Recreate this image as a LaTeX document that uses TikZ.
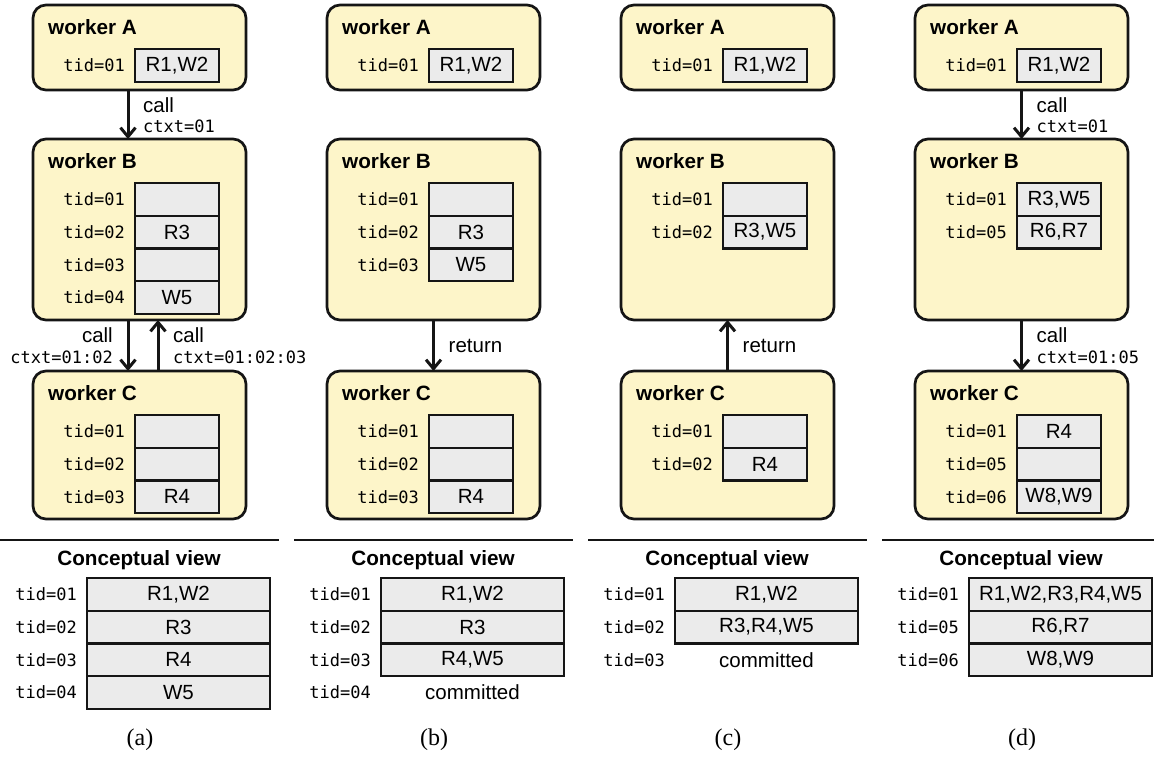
\documentclass[tikz,border=0pt]{standalone}
\usepackage{fontspec}
\setmainfont{Liberation Sans}
\newfontfamily\monof{DejaVu Sans Mono}
\newfontfamily\serf{Liberation Serif}
\usetikzlibrary{arrows.meta,calc}
\definecolor{wfill}{HTML}{FDF5C9}
\definecolor{cfill}{HTML}{EBEBEB}
\definecolor{ink}{HTML}{151515}
\tikzset{
 worker/.style={draw=ink, fill=wfill, rounded corners=13pt, line width=2.7pt, minimum width=213pt, anchor=north west, inner sep=0pt, outer sep=0pt},
 wtitle/.style={font=\fontsize{20.7}{24}\selectfont\bfseries, anchor=base west, inner sep=0pt},
 cellbox/.style={draw=ink, fill=cfill, line width=2.3pt, minimum width=84pt, minimum height=32.7pt, anchor=north west, inner sep=0pt, outer sep=0pt, font=\fontsize{20.5}{24}\selectfont},
 tidlab/.style={font=\monof\fontsize{17}{20}\selectfont, anchor=east, inner sep=0pt},
 lab/.style={font=\fontsize{20.5}{24}\selectfont, inner sep=0pt},
 mlab/.style={font=\monof\fontsize{17}{20}\selectfont, inner sep=0pt},
 arr/.style={line width=3pt, draw=ink, -{Straight Barb[length=9pt,width=15pt,line width=3pt]}},
 sepline/.style={line width=2.8pt, draw=ink},
 captext/.style={font=\serf\fontsize{24}{28}\selectfont, inner sep=0pt},
}
\newcommand\wrow[4]{%
 \node[cellbox] (#1) at (135,#2) {#4};
 \node[tidlab] (#1t) at ([xshift=-10pt]#1.west) {#3};}
\newcommand\trow[4]{%
 \node[cellbox, minimum width=183pt] (#1) at (87,#2) {#4};
 \node[tidlab] (#1t) at ([xshift=-10pt]#1.west) {#3};}
\begin{document}
\begin{tikzpicture}[x=1pt,y=-1pt]
\useasboundingbox (0,0) rectangle (1154,758);
% ---------------- (a)
\begin{scope}
\node[worker, minimum height=85pt] (aA) at (33,5) {};
\node[wtitle] (aAt) at (48,34) {worker A};
\wrow{aA1}{49}{tid=01}{R1,W2}
\node[worker, minimum height=181pt] (aB) at (33,139) {};
\node[wtitle] (aBt) at (48,168) {worker B};
\wrow{aB1}{183}{tid=01}{}
\wrow{aB2}{215.7}{tid=02}{R3}
\wrow{aB3}{248.4}{tid=03}{}
\wrow{aB4}{281.1}{tid=04}{W5}
\node[worker, minimum height=148pt] (aC) at (33,371) {};
\node[wtitle] (aCt) at (48,400) {worker C};
\wrow{aC1}{415}{tid=01}{}
\wrow{aC2}{447.7}{tid=02}{}
\wrow{aC3}{480.4}{tid=03}{R4}
\draw[arr] ([xshift=-11.5pt]aA.south) -- ([xshift=-11.5pt]aB.north);
\node[lab, anchor=west] (aL1) at (143,105) {call};
\node[mlab, anchor=west] (aL2) at (143,126) {ctxt=01};
\draw[arr] ([xshift=-11.5pt]aB.south) -- ([xshift=-11.5pt]aC.north);
\draw[arr] ([xshift=18.5pt]aC.north) -- ([xshift=18.5pt]aB.south);
\node[lab, anchor=east] (aL3) at (113,335) {call};
\node[mlab, anchor=east] (aL4) at (113,357) {ctxt=01:02};
\node[lab, anchor=west] (aL5) at (173,335) {call};
\node[mlab, anchor=west] (aL6) at (173,357) {ctxt=01:02:03};
\draw[sepline] (0,540) -- (279,540);
\node[wtitle, anchor=base] (aCV) at (139,565) {Conceptual view};
\trow{aT1}{578}{tid=01}{R1,W2}
\trow{aT2}{610.7}{tid=02}{R3}
\trow{aT3}{643.4}{tid=03}{R4}
\trow{aT4}{676.1}{tid=04}{W5}
\node[captext] (aCap) at (140,740) {(a)};
\end{scope}
% ---------------- (b)
\begin{scope}[shift={(294,0)}]
\node[worker, minimum height=85pt] (bA) at (33,5) {};
\node[wtitle] (bAt) at (48,34) {worker A};
\wrow{bA1}{49}{tid=01}{R1,W2}
\node[worker, minimum height=181pt] (bB) at (33,139) {};
\node[wtitle] (bBt) at (48,168) {worker B};
\wrow{bB1}{183}{tid=01}{}
\wrow{bB2}{215.7}{tid=02}{R3}
\wrow{bB3}{248.4}{tid=03}{W5}
\node[worker, minimum height=148pt] (bC) at (33,371) {};
\node[wtitle] (bCt) at (48,400) {worker C};
\wrow{bC1}{415}{tid=01}{}
\wrow{bC2}{447.7}{tid=02}{}
\wrow{bC3}{480.4}{tid=03}{R4}
\draw[arr] (bB.south) -- (bC.north);
\node[lab, anchor=west] (bL1) at (154.5,346) {return};
\draw[sepline] (0,540) -- (279,540);
\node[wtitle, anchor=base] (bCV) at (139,565) {Conceptual view};
\trow{bT1}{578}{tid=01}{R1,W2}
\trow{bT2}{610.7}{tid=02}{R3}
\trow{bT3}{643.4}{tid=03}{R4,W5}
\node[tidlab] (bT4t) at (77,692.5) {tid=04};
\node[lab] (bT4) at (178.5,692.5) {committed};
\node[captext] (bCap) at (140,740) {(b)};
\end{scope}
% ---------------- (c)
\begin{scope}[shift={(588,0)}]
\node[worker, minimum height=85pt] (cA) at (33,5) {};
\node[wtitle] (cAt) at (48,34) {worker A};
\wrow{cA1}{49}{tid=01}{R1,W2}
\node[worker, minimum height=181pt] (cB) at (33,139) {};
\node[wtitle] (cBt) at (48,168) {worker B};
\wrow{cB1}{183}{tid=01}{}
\wrow{cB2}{215.7}{tid=02}{R3,W5}
\node[worker, minimum height=148pt] (cC) at (33,371) {};
\node[wtitle] (cCt) at (48,400) {worker C};
\wrow{cC1}{415}{tid=01}{}
\wrow{cC2}{447.7}{tid=02}{R4}
\draw[arr] (cC.north) -- (cB.south);
\node[lab, anchor=west] (cL1) at (154.5,346) {return};
\draw[sepline] (0,540) -- (279,540);
\node[wtitle, anchor=base] (cCV) at (139,565) {Conceptual view};
\trow{cT1}{578}{tid=01}{R1,W2}
\trow{cT2}{610.7}{tid=02}{R3,R4,W5}
\node[tidlab] (cT3t) at (77,659.75) {tid=03};
\node[lab] (cT3) at (178.5,659.75) {committed};
\node[captext] (cCap) at (140,740) {(c)};
\end{scope}
% ---------------- (d)
\begin{scope}[shift={(882,0)}]
\node[worker, minimum height=85pt] (dA) at (33,5) {};
\node[wtitle] (dAt) at (48,34) {worker A};
\wrow{dA1}{49}{tid=01}{R1,W2}
\node[worker, minimum height=181pt] (dB) at (33,139) {};
\node[wtitle] (dBt) at (48,168) {worker B};
\wrow{dB1}{183}{tid=01}{R3,W5}
\wrow{dB2}{215.7}{tid=05}{R6,R7}
\node[worker, minimum height=148pt] (dC) at (33,371) {};
\node[wtitle] (dCt) at (48,400) {worker C};
\wrow{dC1}{415}{tid=01}{R4}
\wrow{dC2}{447.7}{tid=05}{}
\wrow{dC3}{480.4}{tid=06}{W8,W9}
\draw[arr] (dA.south) -- (dB.north);
\node[lab, anchor=west] (dL1) at (154.5,105) {call};
\node[mlab, anchor=west] (dL2) at (154.5,126) {ctxt=01};
\draw[arr] (dB.south) -- (dC.north);
\node[lab, anchor=west] (dL3) at (154.5,335) {call};
\node[mlab, anchor=west] (dL4) at (154.5,357) {ctxt=01:05};
\draw[sepline] (0,540) -- (272,540);
\node[wtitle, anchor=base] (dCV) at (139,565) {Conceptual view};
\trow{dT1}{578}{tid=01}{R1,W2,R3,R4,W5}
\trow{dT2}{610.7}{tid=05}{R6,R7}
\trow{dT3}{643.4}{tid=06}{W8,W9}
\node[captext] (dCap) at (140,740) {(d)};
\end{scope}
\end{tikzpicture}
\end{document}
